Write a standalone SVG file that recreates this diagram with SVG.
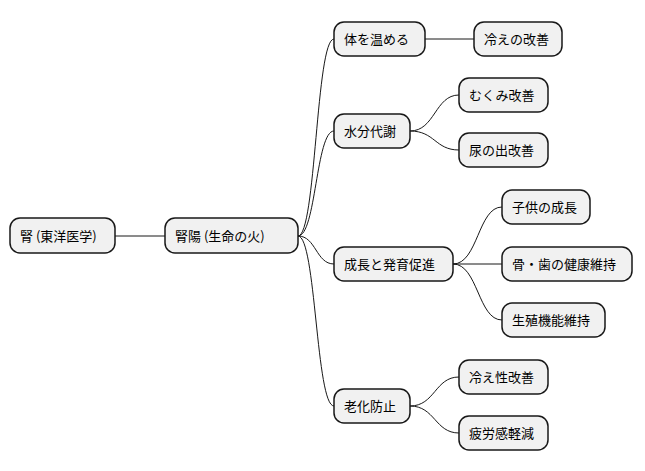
<svg xmlns="http://www.w3.org/2000/svg" width="645" height="471" viewBox="0 0 645 471">
<style>
rect.n{fill:#F1F1F1;stroke:#181818;stroke-width:1.5}
text{font-family:"Noto Sans CJK JP","Noto Sans",sans-serif;font-size:13px;fill:#000;dominant-baseline:central}
path{fill:none;stroke:#181818;stroke-width:1}
</style>
<rect width="645" height="471" fill="#FFFFFF"/>
<g id="connectors">
<path d="M115 236 L165 236"/>
<path d="M298 236 C316 236,316 39,334 39"/>
<path d="M298 236 C316 236,316 131,334 131"/>
<path d="M298 236 C316 236,316 264,334 264"/>
<path d="M298 236 C316 236,316 406,334 406"/>
<path d="M425 39 L474 39"/>
<path d="M410 131 C435 131,435 95,459 95"/>
<path d="M410 131 C435 131,435 150,459 150"/>
<path d="M453 264 C478 264,478 207,502 207"/>
<path d="M453 264 L502 264"/>
<path d="M453 264 C478 264,478 320,502 320"/>
<path d="M410 406 C435 406,435 377,459 377"/>
<path d="M410 406 C435 406,435 433,459 433"/>
</g>
<g id="n0"><rect class="n" x="10" y="218" width="105" height="35" rx="10"/><text x="20" y="235">腎 (東洋医学)</text></g>
<g id="n1"><rect class="n" x="165" y="218" width="133" height="35" rx="10"/><text x="175" y="235">腎陽 (生命の火)</text></g>
<g id="n2"><rect class="n" x="334" y="22" width="91" height="34" rx="10"/><text x="344" y="38">体を温める</text></g>
<g id="n3"><rect class="n" x="474" y="22" width="88" height="34" rx="10"/><text x="484" y="38">冷えの改善</text></g>
<g id="n4"><rect class="n" x="334" y="114" width="76" height="34" rx="10"/><text x="344" y="130">水分代謝</text></g>
<g id="n5"><rect class="n" x="459" y="78" width="89" height="34" rx="10"/><text x="469" y="94">むくみ改善</text></g>
<g id="n6"><rect class="n" x="459" y="133" width="89" height="34" rx="10"/><text x="469" y="149">尿の出改善</text></g>
<g id="n7"><rect class="n" x="334" y="247" width="119" height="34" rx="10"/><text x="344" y="263">成長と発育促進</text></g>
<g id="n8"><rect class="n" x="502" y="190" width="88" height="34" rx="10"/><text x="512" y="206">子供の成長</text></g>
<g id="n9"><rect class="n" x="502" y="247" width="130" height="34" rx="10"/><text x="512" y="263">骨・歯の健康維持</text></g>
<g id="n10"><rect class="n" x="502" y="303" width="103" height="34" rx="10"/><text x="512" y="319">生殖機能維持</text></g>
<g id="n11"><rect class="n" x="334" y="389" width="76" height="34" rx="10"/><text x="344" y="405">老化防止</text></g>
<g id="n12"><rect class="n" x="459" y="360" width="89" height="34" rx="10"/><text x="469" y="376">冷え性改善</text></g>
<g id="n13"><rect class="n" x="459" y="416" width="89" height="34" rx="10"/><text x="469" y="432">疲労感軽減</text></g>
</svg>
